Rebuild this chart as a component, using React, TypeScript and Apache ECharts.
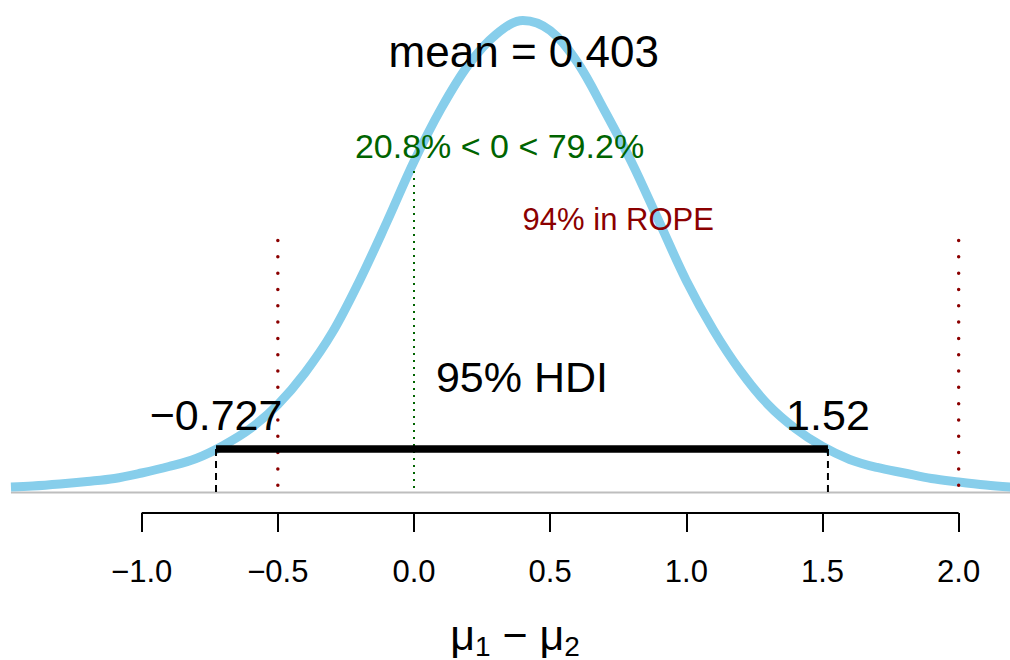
import React, { useEffect, useRef } from "react";
import * as echarts from "echarts";

// Posterior density of mu1 - mu2
const densityX = [
  -1.48, -1.4, -1.3, -1.2, -1.1, -1.0, -0.9, -0.8, -0.7, -0.6, -0.5, -0.4, -0.3, -0.2, -0.1,
  0.0, 0.1, 0.2, 0.3, 0.4, 0.5, 0.6, 0.7, 0.8, 0.9, 1.0, 1.1, 1.2, 1.3, 1.4, 1.5, 1.6, 1.7,
  1.8, 1.9, 2.0, 2.1, 2.19,
];
const densityY = [
  0.0093, 0.011, 0.0144, 0.0186, 0.0237, 0.033, 0.044, 0.0576, 0.0797, 0.1085, 0.149, 0.203,
  0.271, 0.359, 0.458, 0.561, 0.651, 0.725, 0.776, 0.8, 0.783, 0.729, 0.647, 0.559, 0.459,
  0.359, 0.275, 0.205, 0.149, 0.1085, 0.078, 0.056, 0.0424, 0.033, 0.0237, 0.0178, 0.0127,
  0.0093,
];

const tickValues = [-1, -0.5, 0, 0.5, 1, 1.5, 2];
const tickLabels = ["\u22121.0", "\u22120.5", "0.0", "0.5", "1.0", "1.5", "2.0"];

const meanValue = 0.403;
const hdiLimits = [-0.727, 1.52];
const hdiLabels = ["\u22120.727", "1.52"];
const hdiHeight = 0.0737;
const credMass = 95;
const compVal = 0;
const pctBelowComp = 20.8;
const pctAboveComp = 79.2;
const ropeLimits = [-0.5, 2.0];
const pctInRope = 94;

// annotation heights (density units)
const meanTextHeight = 0.747;
const compTextHeight = 0.587;
const compTextCenter = 0.314;
const compLineTop = 0.545;
const ropeTextHeight = 0.463;
const ropeLineTop = 0.427;
const hdiTextHeight = 0.196;
const hdiEndTextHeight = 0.131;

const xRange = [-1.5202, 2.1885];
const yRange = [-0.0348, 0.8347];

const FONT = "'Liberation Sans', Arial, Helvetica, sans-serif";

function seg(name: string, data: number[][], lineStyle: any, z: number, clip = true) {
  return {
    name,
    type: "line",
    data,
    showSymbol: false,
    symbol: "none",
    silent: true,
    clip,
    z,
    lineStyle,
  };
}

export default function App() {
  const ref = useRef<HTMLDivElement>(null);
  useEffect(() => {
    if (!ref.current) return;
    const chart = echarts.init(ref.current, null, { renderer: "svg" });

    const curve = densityX.map((x, i) => [x, densityY[i]]);
    const textItem = (x: number, y: number, text: string, color: string, size: number) => ({
      value: [x, y],
      label: {
        show: true,
        formatter: text,
        position: [0.5, 0.5],
        align: "center",
        verticalAlign: "middle",
        color,
        opacity: 1,
        textBorderWidth: 0,
        fontSize: size,
        fontFamily: FONT,
      },
    });

    const series: any[] = [
      seg("baseline", [[densityX[0], 0], [densityX[densityX.length - 1], 0]], { color: "#BEBEBE", width: 2 }, 1),
      {
        name: "density",
        type: "line",
        data: curve,
        smooth: 0.35,
        showSymbol: false,
        symbol: "none",
        silent: true,
        z: 2,
        lineStyle: { color: "#87CEEB", width: 9, cap: "butt", join: "round" },
      },
      ...ropeLimits.map((r, i) =>
        seg("rope" + i, [[r, ropeLineTop], [r, 0]], { color: "#8B0000", width: 3.5, type: [0.01, 16.3], cap: "round" }, 5)
      ),
      seg("comp", [[compVal, compLineTop], [compVal, 0]], { color: "#006400", width: 2, type: [2, 5] }, 5),
      seg("hdiBar", [[hdiLimits[0], hdiHeight], [hdiLimits[1], hdiHeight]], { color: "#000", width: 7.5, cap: "butt" }, 6),
      ...hdiLimits.map((h, i) =>
        seg("hdiDash" + i, [[h, hdiHeight], [h, 0]], { color: "#000", width: 2, type: [7, 5] }, 5)
      ),
      seg("axisLine", [[tickValues[0], yRange[0]], [tickValues[tickValues.length - 1], yRange[0]]], { color: "#000", width: 2 }, 6, false),
      {
        name: "texts",
        type: "scatter",
        symbolSize: 1,
        silent: true,
        z: 10,
        itemStyle: { color: "#fff", opacity: 0 },
        data: [
          textItem(meanValue, meanTextHeight, `mean = ${meanValue}`, "#000000", 44),
          textItem(compTextCenter, compTextHeight, `${pctBelowComp}% < ${compVal} < ${pctAboveComp}%`, "#006400", 34),
          textItem((ropeLimits[0] + ropeLimits[1]) / 2, ropeTextHeight, `${pctInRope}% in ROPE`, "#8B0000", 31),
          textItem((hdiLimits[0] + hdiLimits[1]) / 2, hdiTextHeight, `${credMass}% HDI`, "#000000", 43),
          textItem(hdiLimits[0], hdiEndTextHeight, hdiLabels[0], "#000000", 43),
          textItem(hdiLimits[1], hdiEndTextHeight, hdiLabels[1], "#000000", 43),
        ],
      },
    ];

    chart.setOption({
      animation: false,
      backgroundColor: "#fff",
      textStyle: { fontFamily: FONT },
      grid: { left: 0, right: 0, top: 0, bottom: 147, containLabel: false, outerBoundsMode: "none" },
      xAxis: {
        type: "value",
        min: xRange[0],
        max: xRange[1],
        splitLine: { show: false },
        axisLine: { show: false, onZero: false },
        axisTick: {
          show: true,
          inside: false,
          customValues: tickValues,
          length: 19,
          lineStyle: { color: "#000", width: 2 },
        },
        axisLabel: {
          show: true,
          customValues: tickValues,
          margin: 58,
          verticalAlign: "middle",
          color: "#000",
          fontSize: 31,
          fontFamily: FONT,
          formatter: (v: number) => {
            const i = tickValues.findIndex((t) => Math.abs(t - v) < 1e-9);
            return i >= 0 ? tickLabels[i] : "";
          },
        },
        name: "{mu|\u03bc}{sub|1}{op| \u2212 }{mu|\u03bc}{sub|2}",
        nameLocation: "middle",
        nameGap: 122,
        nameTextStyle: {
          verticalAlign: "middle",
          padding: [0, 0, 0, 20],
          rich: {
            mu: { fontSize: 43, fontFamily: FONT, color: "#000", lineHeight: 50 },
            op: { fontSize: 43, fontFamily: FONT, color: "#000", lineHeight: 50 },
            sub: { fontSize: 28, fontFamily: FONT, color: "#000", lineHeight: 50, padding: [22, 0, 0, 0] },
          },
        },
      },
      yAxis: {
        type: "value",
        min: yRange[0],
        max: yRange[1],
        show: false,
      },
      series,
    });

    return () => chart.dispose();
  }, []);

  return (
    <div
      ref={ref}
      style={{ position: "absolute", left: 0, top: 0, width: 1010, height: 660, background: "#fff" }}
    />
  );
}
